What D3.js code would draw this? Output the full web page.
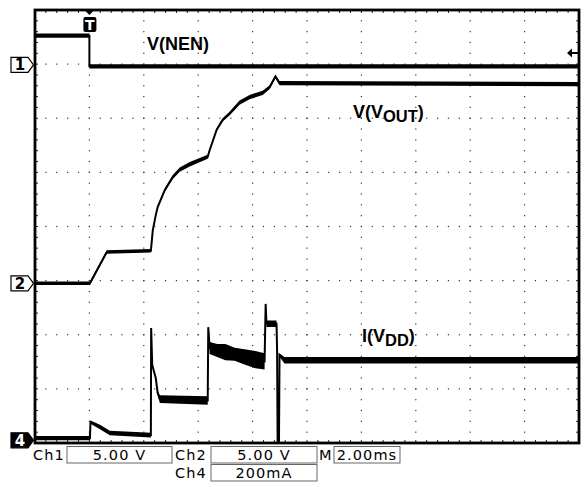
<!DOCTYPE html>
<html>
<head>
<meta charset="utf-8">
<script src="https://cdn.jsdelivr.net/npm/d3@7"></script>
<style>
  body { margin: 0; background: #fff; }
</style>
</head>
<body>
<svg id="scope" width="585" height="487"></svg>
<script>
// time in ms (0 = trigger), [t, value, noise half-width]
let v_nen = [[-2.0, 2.7, 0.2], [0.0, 2.7, 0.2], [0.0, -0.13, 0.2], [18, -0.13, 0.2]]

let v_out = [
  [-2.0, 0, 0.16], [0.02, 0, 0.16], [0.64, 2.9, 0.16], [2.26, 3.0, 0.16],
  [2.33, 4.9, 0.05], [2.44, 6.3, 0.05], [2.51, 7.05, 0.1], [2.77, 8.6, 0.15],
  [3.06, 9.8, 0.18], [3.32, 10.5, 0.2], [3.69, 11.0, 0.2], [4.35, 11.7, 0.18],
  [4.42, 12.3, 0.12], [4.68, 14.2, 0.12], [4.90, 15.1, 0.15], [5.16, 15.7, 0.18],
  [5.52, 16.7, 0.2], [5.89, 17.2, 0.2], [6.37, 17.6, 0.2], [6.62, 18.1, 0.18],
  [6.84, 19.1, 0.15], [6.99, 18.5, 0.2], [18, 18.4, 0.2]
]

let i_vdd = [
  [-2.0, 8, 8], [0.02, 8, 8], [0.04, 67, 6], [0.39, 49, 8], [0.75, 27, 8],
  [2.26, 19, 9], [2.27, 415, 0], [2.31, 278, 4], [2.44, 230, 4], [2.51, 175, 8],
  [2.59, 152, 14], [4.35, 147, 16], [4.37, 418, 0], [4.42, 341, 22],
  [4.7, 332, 24], [5.0, 326, 30], [5.34, 318, 24], [5.7, 308, 28],
  [6.1, 298, 32], [6.44, 292, 30], [6.48, 504, 0], [6.51, 431, 12],
  [6.88, 431, 12], [6.90, 334, 0], [6.92, -10, 0], [6.97, -10, 0],
  [6.99, 315, 6], [7.17, 296, 12], [18, 296, 12]
]

let channels = [
  {name: "1", data: v_nen, perDiv: 5, offsetDiv: 2.985, marker: "open"},
  {name: "2", data: v_out, perDiv: 5, offsetDiv: -1.05, marker: "open"},
  {name: "4", data: i_vdd, perDiv: 200, offsetDiv: -3.95, marker: "solid"}
]

let readout = [
  {label: "Ch1", value: "5.00 V", row: 0, x: 33, bx: 67, bw: 105},
  {label: "Ch2", value: "5.00 V", row: 0, x: 175, bx: 211, bw: 106},
  {label: "M", value: "2.00ms", row: 0, x: 319, bx: 334, bw: 66},
  {label: "Ch4", value: "200mA", row: 1, x: 175, bx: 211, bw: 106}
]

let fLeft = 35, fRight = 579, fTop = 10, fBottom = 443

let svg = d3.select("#scope")

let x = d3.scaleLinear().domain([-2, 18]).range([fLeft, fRight])
let ydiv = d3.scaleLinear().domain([-4, 4]).range([fBottom, fTop])

function chScale(ch) {
  return d3.scaleLinear()
    .domain([(-4 - ch.offsetDiv) * ch.perDiv, (4 - ch.offsetDiv) * ch.perDiv])
    .range([fBottom, fTop])
}

// graticule dots
let dots = []
d3.range(1, 10).forEach(i => {
  d3.range(1, 40).forEach(k => dots.push([x(-2 + 2 * i), ydiv(-4 + k / 5)]))
})
d3.range(1, 8).forEach(j => {
  d3.range(1, 50).forEach(k => dots.push([x(-2 + k * 0.4), ydiv(-4 + j)]))
})
svg.append("g").selectAll("rect")
  .data(dots)
  .join("rect")
  .attr("x", d => d[0] - 0.6)
  .attr("y", d => d[1] - 0.6)
  .attr("width", 1.2)
  .attr("height", 1.2)
  .attr("fill", "#333")

// edge ticks
let ticks = svg.append("g").attr("stroke", "#222").attr("stroke-width", 1)
d3.range(1, 50).forEach(k => {
  let xx = x(-2 + k * 0.4)
  ticks.append("line").attr("x1", xx).attr("x2", xx).attr("y1", fTop).attr("y2", fTop + 3)
  ticks.append("line").attr("x1", xx).attr("x2", xx).attr("y1", fBottom).attr("y2", fBottom - 3)
})
d3.range(1, 40).forEach(k => {
  let yy = ydiv(-4 + k / 5)
  ticks.append("line").attr("x1", fLeft).attr("x2", fLeft + 3).attr("y1", yy).attr("y2", yy)
  ticks.append("line").attr("x1", fRight).attr("x2", fRight - 3).attr("y1", yy).attr("y2", yy)
})

// traces
channels.forEach(ch => {
  let y = chScale(ch)
  svg.append("path")
    .datum(ch.data)
    .attr("d", d3.area().x(d => x(d[0])).y0(d => y(d[1] - d[2])).y1(d => y(d[1] + d[2])))
    .attr("fill", "#000")
  svg.append("path")
    .datum(ch.data)
    .attr("d", d3.line().x(d => x(d[0])).y(d => y(d[1])))
    .attr("fill", "none")
    .attr("stroke", "#000")
    .attr("stroke-width", 2)
})

// frame
svg.append("rect")
  .attr("x", fLeft).attr("y", fTop)
  .attr("width", fRight - fLeft).attr("height", fBottom - fTop)
  .attr("fill", "none")
  .attr("stroke", "#000")
  .attr("stroke-width", 2.8)

// channel ground markers
channels.forEach(ch => {
  let yy = chScale(ch)(0)
  let g = svg.append("g").attr("transform", `translate(0, ${yy})`)
  g.append("path")
    .attr("d", "M11,-7.5 L28,-7.5 L33.5,0 L28,7.5 L11,7.5 Z")
    .attr("fill", ch.marker == "solid" ? "#000" : "#fff")
    .attr("stroke", "#000")
    .attr("stroke-width", 1.2)
  g.append("text")
    .attr("x", 20).attr("y", 5.5)
    .attr("text-anchor", "middle")
    .attr("font-family", "DejaVu Sans")
    .attr("font-weight", "bold")
    .attr("font-size", 15)
    .attr("fill", ch.marker == "solid" ? "#fff" : "#000")
    .text(ch.name)
})

// trigger position marker
svg.append("path")
  .attr("d", `M${x(0) - 5},${fTop} L${x(0) + 5},${fTop} L${x(0)},${fTop + 5} Z`)
  .attr("fill", "#000")
svg.append("rect")
  .attr("x", x(0) - 6).attr("y", fTop + 7)
  .attr("width", 13).attr("height", 15)
  .attr("rx", 2)
  .attr("fill", "#000")
svg.append("text")
  .attr("x", x(0) + 0.5).attr("y", fTop + 20)
  .attr("text-anchor", "middle")
  .attr("font-family", "DejaVu Sans")
  .attr("font-weight", "bold")
  .attr("font-size", 14)
  .attr("fill", "#fff")
  .text("T")

// trigger level arrow (ch1)
let ty = chScale(channels[0])(1.1)
svg.append("path")
  .attr("d", `M567,${ty} L572,${ty - 4.5} L572,${ty - 1} L578,${ty - 1} L578,${ty + 1} L572,${ty + 1} L572,${ty + 4.5} Z`)
  .attr("fill", "#000")

// trace labels
function label(tx, ty, main, sub) {
  let t = svg.append("text")
    .attr("x", tx).attr("y", ty)
    .attr("font-family", "Liberation Sans")
    .attr("font-weight", "bold")
    .attr("font-size", 18)
    .attr("fill", "#000")
  t.append("tspan").text(main)
  if (sub) {
    t.append("tspan").attr("font-size", 16.5).attr("dy", 4).text(sub)
    t.append("tspan").attr("dy", -4).text(")")
  }
}
label(147, 50, "V(NEN)")
label(353, 118, "V(V", "OUT")
label(362, 342, "I(V", "DD")

// readout
let ro = svg.append("g")
  .attr("font-family", "DejaVu Sans")
  .attr("font-size", 14.5)
  .attr("letter-spacing", 1.1)
  .attr("fill", "#000")
readout.forEach(r => {
  let by = 446.5 + r.row * 18
  ro.append("rect")
    .attr("x", r.bx).attr("y", by)
    .attr("width", r.bw).attr("height", 16.5)
    .attr("fill", "none")
    .attr("stroke", "#666")
    .attr("stroke-width", 1)
  ro.append("text").attr("x", r.x).attr("y", by + 13.5).text(r.label)
  ro.append("text")
    .attr("x", r.bx + r.bw / 2).attr("y", by + 13.5)
    .attr("text-anchor", "middle")
    .text(r.value)
})
</script>
</body>
</html>
